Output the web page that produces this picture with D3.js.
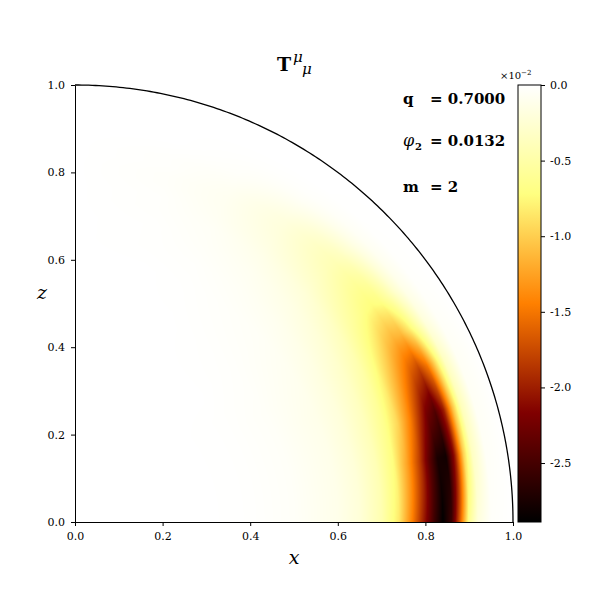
<!DOCTYPE html>
<html>
<head>
<meta charset="utf-8">
<script src="https://cdn.jsdelivr.net/npm/d3@7"></script>
<style>
  body { margin: 0; background: #fff; }
  svg text { font-family: "DejaVu Serif", serif; }
</style>
</head>
<body>
<div id="chart"></div>
<script>
const W = 600, H = 600

// Grade polar: angulos (graus a partir do eixo x) e raios
const thetas = [0, 10, 17, 24, 30, 36, 45, 55, 65, 75, 90]
const radii = [0, 0.3, 0.4, 0.5, 0.6, 0.65, 0.7, 0.74, 0.77, 0.8, 0.82, 0.84, 0.86, 0.88, 0.9, 0.92, 0.95, 1.0]

// T^mu_mu (em unidades de 1e-2), uma linha por angulo
const row00 = [0, 0, -0.01, -0.04, -0.12, -0.22, -0.45, -0.85, -1.45, -2.1, -2.55, -2.89, -2.55, -1.6, -0.6, -0.2, -0.03, 0]
const row10 = [0, 0, -0.01, -0.04, -0.12, -0.22, -0.42, -0.75, -1.25, -1.85, -2.35, -2.75, -2.8, -2.05, -1.0, -0.35, -0.05, 0]
const row17 = [0, 0, -0.01, -0.04, -0.12, -0.22, -0.4, -0.65, -0.95, -1.45, -1.85, -2.25, -2.45, -2.0, -1.1, -0.4, -0.06, 0]
const row24 = [0, 0, -0.01, -0.04, -0.12, -0.2, -0.35, -0.55, -0.8, -1.15, -1.4, -1.65, -1.8, -1.5, -0.9, -0.35, -0.06, 0]
const row30 = [0, 0, -0.01, -0.04, -0.1, -0.18, -0.3, -0.45, -0.65, -0.88, -1.05, -1.15, -1.12, -0.85, -0.5, -0.2, -0.04, 0]
const row36 = [0, 0, -0.01, -0.03, -0.08, -0.14, -0.24, -0.36, -0.5, -0.62, -0.7, -0.74, -0.68, -0.5, -0.28, -0.12, -0.02, 0]
const row45 = [0, 0, 0, -0.02, -0.05, -0.09, -0.15, -0.22, -0.3, -0.37, -0.41, -0.42, -0.36, -0.25, -0.14, -0.06, -0.01, 0]
const row55 = [0, 0, 0, -0.01, -0.03, -0.05, -0.08, -0.12, -0.16, -0.19, -0.2, -0.19, -0.15, -0.1, -0.05, -0.02, 0, 0]
const row65 = [0, 0, 0, 0, -0.01, -0.02, -0.04, -0.05, -0.07, -0.08, -0.08, -0.07, -0.05, -0.03, -0.02, -0.01, 0, 0]
const row75 = [0, 0, 0, 0, 0, -0.01, -0.01, -0.02, -0.02, -0.03, -0.03, -0.02, -0.02, -0.01, 0, 0, 0, 0]
const row90 = [0, 0, 0, 0, 0, 0, 0, 0, 0, 0, 0, 0, 0, 0, 0, 0, 0, 0]
const tRows = [row00, row10, row17, row24, row30, row36, row45, row55, row65, row75, row90]

const vmin = -2.89, vmax = 0
const xTicks = [0, 0.2, 0.4, 0.6, 0.8, 1.0]
const zTicks = [0, 0.2, 0.4, 0.6, 0.8, 1.0]
const cbTicks = [0, -0.5, -1.0, -1.5, -2.0, -2.5]

// Escalas
const x = d3.scaleLinear().domain([0, 1]).range([75, 513])
const z = d3.scaleLinear().domain([0, 1]).range([522, 85])
const cb = d3.scaleLinear().domain([vmin, vmax]).range([522, 85])

// afmhot
const afmhot = d3.scaleLinear()
  .domain([vmin, 0.75 * vmin, 0.5 * vmin, 0.25 * vmin, vmax])
  .range(["#000000", "#800000", "#ff8000", "#ffff80", "#ffffff"])
  .clamp(true)

let svg = d3.select("#chart").append("svg")
  .attr("width", W).attr("height", H)

// interpolacao bilinear na grade polar
let lookup = (r, th) => {
  let i = Math.max(0, Math.min(thetas.length - 2, d3.bisectRight(thetas, th) - 1))
  let j = Math.max(0, Math.min(radii.length - 2, d3.bisectRight(radii, r) - 1))
  let ti = (th - thetas[i]) / (thetas[i + 1] - thetas[i])
  let tj = (r - radii[j]) / (radii[j + 1] - radii[j])
  let a = tRows[i][j] * (1 - tj) + tRows[i][j + 1] * tj
  let b = tRows[i + 1][j] * (1 - tj) + tRows[i + 1][j + 1] * tj
  return a * (1 - ti) + b * ti
}

// Campo em canvas
const cw = Math.round(x(1) - x(0)), ch = Math.round(z(0) - z(1))
const canvas = document.createElement("canvas")
canvas.width = cw; canvas.height = ch
const ctx = canvas.getContext("2d")
const img = ctx.createImageData(cw, ch)
for (let j = 0; j < ch; j++) {
  for (let i = 0; i < cw; i++) {
    let xv = x.invert(x(0) + i + 0.5)
    let zv = z.invert(z(1) + j + 0.5)
    let r = Math.sqrt(xv * xv + zv * zv)
    if (r > 1) continue
    let th = Math.atan2(zv, xv) * 180 / Math.PI
    let c = d3.rgb(afmhot(lookup(r, th)))
    let k = (j * cw + i) * 4
    img.data[k] = c.r; img.data[k + 1] = c.g; img.data[k + 2] = c.b; img.data[k + 3] = 255
  }
}
ctx.putImageData(img, 0, 0)

svg.append("image")
  .attr("x", x(0)).attr("y", z(1))
  .attr("width", cw).attr("height", ch)
  .attr("href", canvas.toDataURL())

// Arco r = 1
const line = d3.line()
  .x(a => x(Math.cos(a)))
  .y(a => z(Math.sin(a)))
svg.append("path")
  .datum(d3.range(0, 201).map(k => k / 200 * Math.PI / 2))
  .attr("d", line)
  .attr("fill", "none")
  .attr("stroke", "#000")
  .attr("stroke-width", 1.3)

// Eixos
let fmt = d => d.toFixed(1)
let gx = svg.append("g").attr("transform", `translate(0,${z(0)})`)
  .call(d3.axisBottom(x).tickValues(xTicks).tickFormat(fmt).tickSize(4).tickSizeOuter(0).tickPadding(6))
let gy = svg.append("g").attr("transform", `translate(${x(0)},0)`)
  .call(d3.axisLeft(z).tickValues(zTicks).tickFormat(fmt).tickSize(4).tickSizeOuter(0).tickPadding(6))
for (let g of [gx, gy]) {
  g.selectAll("text").attr("font-family", "DejaVu Serif").attr("font-size", 11).attr("fill", "#000")
  g.selectAll("line").attr("stroke", "#000")
  g.select(".domain").attr("stroke", "#000")
}

// Rotulos dos eixos
svg.append("text").attr("x", 294).attr("y", 564).attr("text-anchor", "middle")
  .attr("font-family", "DejaVu Serif").attr("font-style", "italic").attr("font-size", 19).text("x")
svg.append("text").attr("x", 42).attr("y", 299).attr("text-anchor", "middle")
  .attr("font-family", "DejaVu Serif").attr("font-style", "italic").attr("font-size", 19).text("z")

// Titulo
svg.append("text").attr("x", 277).attr("y", 71).attr("font-weight", "bold").attr("font-size", 19).text("T")
svg.append("text").attr("x", 293).attr("y", 62).attr("font-family", "Liberation Serif")
  .attr("font-style", "italic").attr("font-size", 15).text("μ")
svg.append("text").attr("x", 302).attr("y", 74).attr("font-family", "Liberation Serif")
  .attr("font-style", "italic").attr("font-size", 15).text("μ")

// Anotacoes
let note = svg.append("g").attr("font-weight", "bold").attr("font-size", 15)
note.append("text").attr("x", 403).attr("y", 104).text("q")
note.append("text").attr("x", 430).attr("y", 104).text("= 0.7000")
note.append("text").attr("x", 403).attr("y", 146).attr("font-weight", "normal")
  .attr("font-style", "italic").attr("font-family", "Liberation Serif").attr("font-size", 16).text("φ")
note.append("text").attr("x", 415).attr("y", 150).attr("font-size", 10).text("2")
note.append("text").attr("x", 430).attr("y", 146).text("= 0.0132")
note.append("text").attr("x", 403).attr("y", 192).text("m")
note.append("text").attr("x", 430).attr("y", 192).text("= 2")

// Barra de cores
let defs = svg.append("defs")
let grad = defs.append("linearGradient").attr("id", "cmap")
  .attr("x1", 0).attr("y1", 1).attr("x2", 0).attr("y2", 0)
grad.selectAll("stop").data(afmhot.domain()).enter().append("stop")
  .attr("offset", d => (d - vmin) / (vmax - vmin))
  .attr("stop-color", d => afmhot(d))
svg.append("rect")
  .attr("x", 518).attr("y", cb(vmax)).attr("width", 23).attr("height", cb(vmin) - cb(vmax))
  .attr("fill", "url(#cmap)").attr("stroke", "#000").attr("stroke-width", 1)
let gc = svg.append("g").attr("transform", "translate(541,0)")
  .call(d3.axisRight(cb).tickValues(cbTicks).tickFormat(fmt).tickSize(4).tickSizeOuter(0).tickPadding(5))
gc.select(".domain").remove()
gc.selectAll("text").attr("font-family", "DejaVu Sans").attr("font-size", 11).attr("fill", "#000")
gc.selectAll("line").attr("stroke", "#000")

let off = svg.append("text").attr("x", 500).attr("y", 79).attr("font-size", 10)
off.append("tspan").text("×10")
off.append("tspan").attr("dy", -4).attr("font-size", 7).text("−2")
</script>
</body>
</html>
